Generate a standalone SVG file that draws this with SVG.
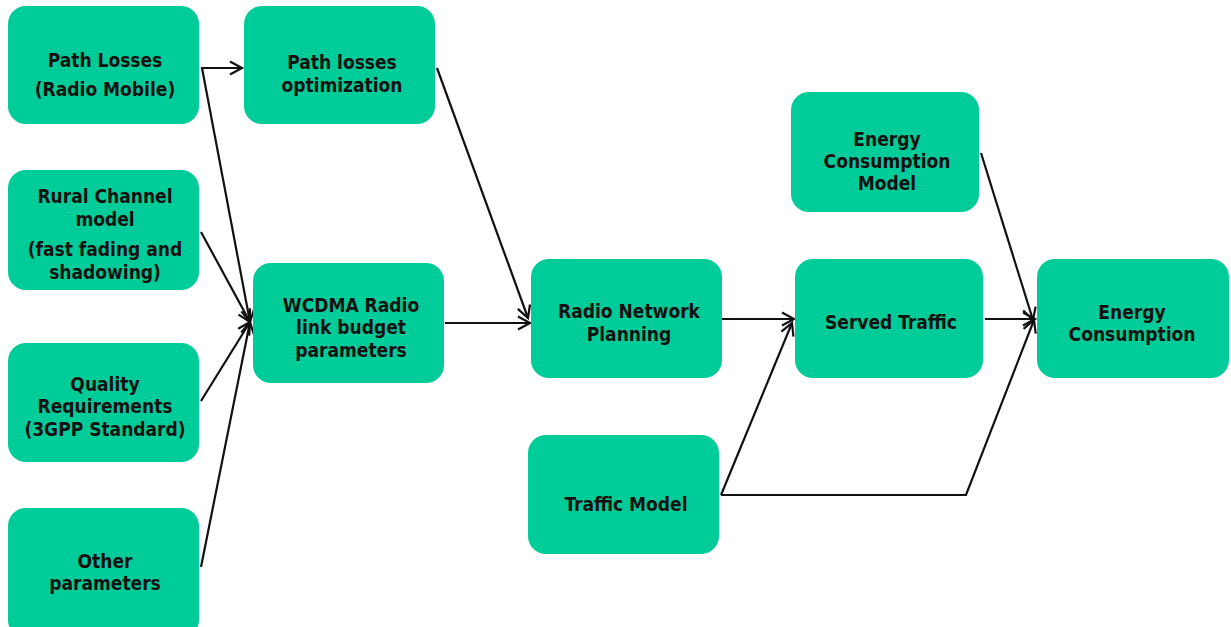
<svg xmlns="http://www.w3.org/2000/svg" width="1231" height="627" viewBox="0 0 1231 627">
<defs>
<marker id="ah" markerUnits="userSpaceOnUse" markerWidth="18" markerHeight="18" refX="14" refY="9" orient="auto">
<path d="M2,2.5 L14,9 L2,15.5" fill="none" stroke="#111" stroke-width="2.2"/>
</marker>
<style>
.box{fill:#00CC99;}
.t{font-family:"DejaVu Sans Condensed","DejaVu Sans",sans-serif;font-weight:bold;font-size:19px;fill:#111;text-anchor:middle;}
.c{fill:none;stroke:#111;stroke-width:2.2;}
</style>
</defs>
<rect width="1231" height="627" fill="#fff"/>
<g id="connectors">
<path class="c" d="M201,68 L242,68" marker-end="url(#ah)"/>
<path class="c" d="M202,68 L250,322" marker-end="url(#ah)"/>
<path class="c" d="M201,232 L250,322" marker-end="url(#ah)"/>
<path class="c" d="M201,401 L250,322" marker-end="url(#ah)"/>
<path class="c" d="M201,567 L250,322" marker-end="url(#ah)"/>
<path class="c" d="M437,68 L528,318" marker-end="url(#ah)"/>
<path class="c" d="M445,323 L530,323" marker-end="url(#ah)"/>
<path class="c" d="M722,319 L794,319" marker-end="url(#ah)"/>
<path class="c" d="M721,495 L792,323" marker-end="url(#ah)"/>
<path class="c" d="M721,495 L966,495 L1034,320" marker-end="url(#ah)"/>
<path class="c" d="M985,319 L1035,319" marker-end="url(#ah)"/>
<path class="c" d="M981,153 L1033,320" marker-end="url(#ah)"/>
</g>
<g id="path-losses">
<rect class="box" x="8" y="6" width="191" height="118" rx="18"/>
<text class="t" x="105" y="67">Path Losses</text>
<text class="t" x="105" y="96">(Radio Mobile)</text>
</g>
<g id="path-losses-opt">
<rect class="box" x="244" y="6" width="191" height="118" rx="18"/>
<text class="t" x="342" y="69">Path losses</text>
<text class="t" x="342" y="92">optimization</text>
</g>
<g id="rural-channel">
<rect class="box" x="8" y="170" width="191" height="120" rx="18"/>
<text class="t" x="105" y="203">Rural Channel</text>
<text class="t" x="105" y="226">model</text>
<text class="t" x="105" y="256">(fast fading and</text>
<text class="t" x="105" y="279">shadowing)</text>
</g>
<g id="quality">
<rect class="box" x="8" y="343" width="191" height="119" rx="18"/>
<text class="t" x="105" y="391">Quality</text>
<text class="t" x="105" y="413">Requirements</text>
<text class="t" x="105" y="436">(3GPP Standard)</text>
</g>
<g id="other">
<rect class="box" x="8" y="508" width="191" height="130" rx="18"/>
<text class="t" x="105" y="568">Other</text>
<text class="t" x="105" y="590">parameters</text>
</g>
<g id="wcdma">
<rect class="box" x="253" y="263" width="191" height="120" rx="18"/>
<text class="t" x="351" y="312">WCDMA Radio</text>
<text class="t" x="351" y="334">link budget</text>
<text class="t" x="351" y="357">parameters</text>
</g>
<g id="rnp">
<rect class="box" x="531" y="259" width="191" height="119" rx="18"/>
<text class="t" x="629" y="318">Radio Network</text>
<text class="t" x="629" y="341">Planning</text>
</g>
<g id="traffic-model">
<rect class="box" x="528" y="435" width="191" height="119" rx="18"/>
<text class="t" x="626" y="511">Traffic Model</text>
</g>
<g id="ecm">
<rect class="box" x="791" y="92" width="188" height="120" rx="18"/>
<text class="t" x="887" y="146">Energy</text>
<text class="t" x="887" y="168">Consumption</text>
<text class="t" x="887" y="190">Model</text>
</g>
<g id="served-traffic">
<rect class="box" x="795" y="259" width="188" height="119" rx="18"/>
<text class="t" x="891" y="329">Served Traffic</text>
</g>
<g id="energy-consumption">
<rect class="box" x="1037" y="259" width="192" height="119" rx="18"/>
<text class="t" x="1132" y="319">Energy</text>
<text class="t" x="1132" y="341">Consumption</text>
</g>
</svg>
